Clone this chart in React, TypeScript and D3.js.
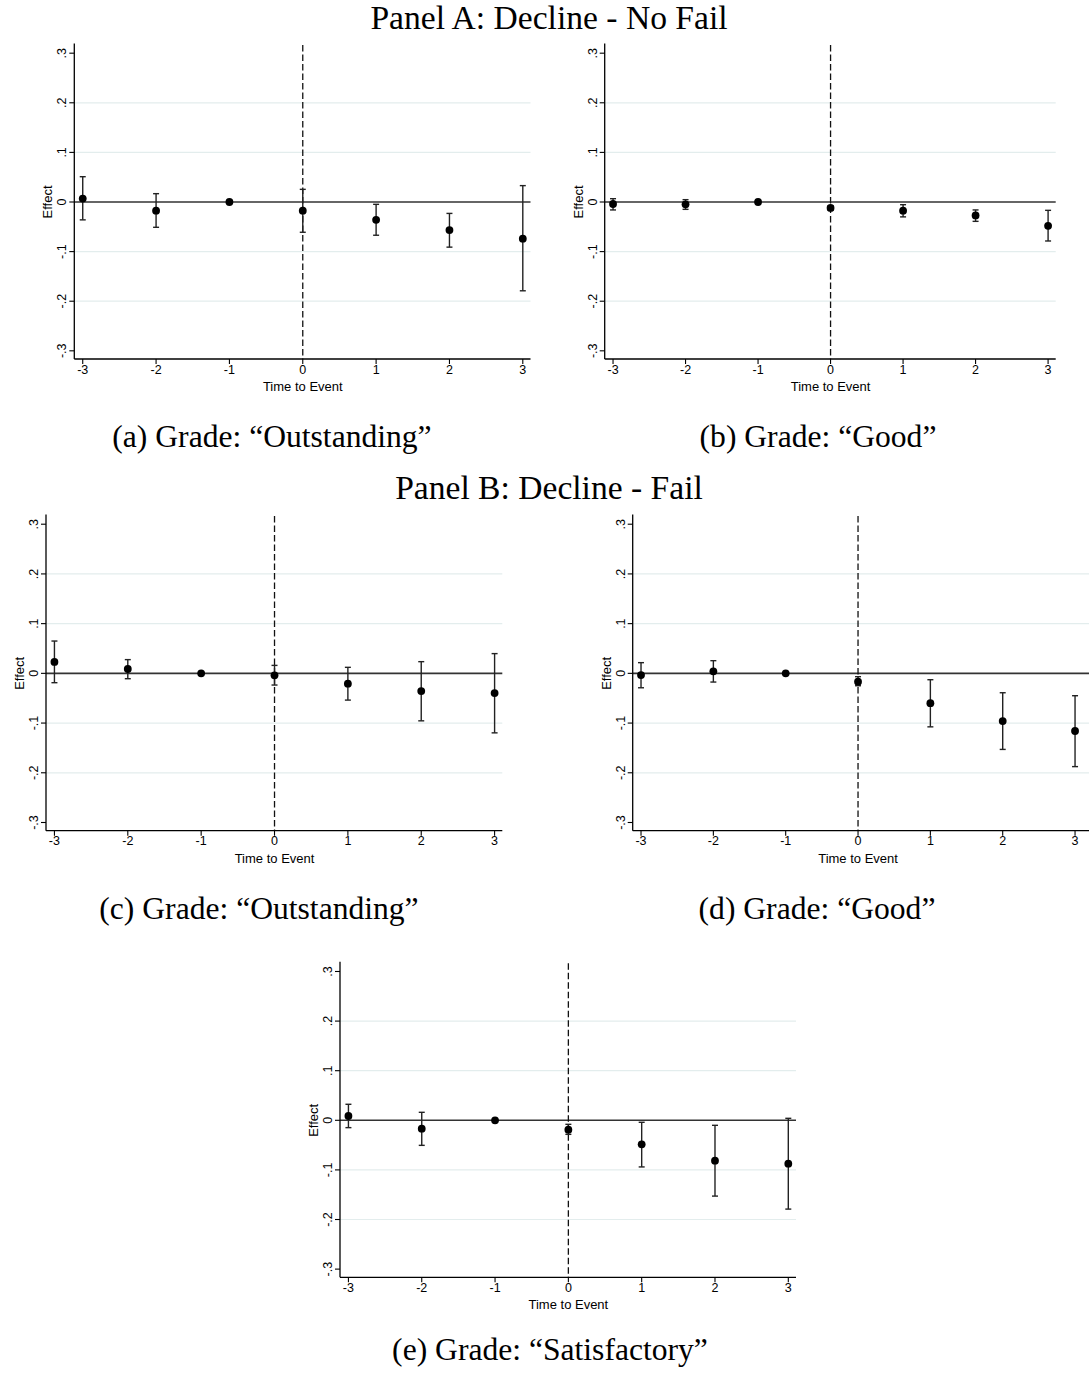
import React from "react";
import * as d3 from "d3";

// Event-study estimates: relative period, point estimate, 95% CI bounds.
const EVENT_TIME = [-3, -2, -1, 0, 1, 2, 3];

const noFailOutstandingEst = [0.007, -0.0175, 0, -0.0175, -0.036, -0.0565, -0.074];
const noFailOutstandingLo = [-0.036, -0.051, null, -0.061, -0.067, -0.091, -0.179];
const noFailOutstandingHi = [0.051, 0.0168, null, 0.0255, -0.0047, -0.023, 0.033];

const noFailGoodEst = [-0.004, -0.0047, 0, -0.012, -0.0175, -0.027, -0.048];
const noFailGoodLo = [-0.016, -0.0148, null, -0.0168, -0.03, -0.039, -0.0786];
const noFailGoodHi = [0.0067, 0.0047, null, -0.0074, -0.0054, -0.016, -0.0168];

const failOutstandingEst = [0.0229, 0.0087, 0, -0.004, -0.0208, -0.0356, -0.0397];
const failOutstandingLo = [-0.0188, -0.0108, null, -0.0235, -0.0538, -0.0955, -0.1197];
const failOutstandingHi = [0.065, 0.0276, null, 0.016, 0.0121, 0.0235, 0.0397];

const failGoodEst = [-0.0034, 0.004, 0, -0.0168, -0.06, -0.096, -0.116];
const failGoodLo = [-0.029, -0.0175, null, -0.0249, -0.1076, -0.153, -0.1876];
const failGoodHi = [0.0215, 0.0255, null, -0.0067, -0.0128, -0.039, -0.045];

const failSatisfactoryEst = [0.0087, -0.0168, 0, -0.0188, -0.0485, -0.0814, -0.0875];
const failSatisfactoryLo = [-0.0148, -0.0505, null, -0.0283, -0.094, -0.1528, -0.179];
const failSatisfactoryHi = [0.0323, 0.0161, null, -0.0081, -0.004, -0.0101, 0.004];

const Y_TICKS = [-0.3, -0.2, -0.1, 0, 0.1, 0.2, 0.3];
const Y_TICK_LABELS = ["-.3", "-.2", "-.1", "0", ".1", ".2", ".3"];
const GRID_VALUES = [-0.2, -0.1, 0.1, 0.2];
const X_TICKS = [-3, -2, -1, 0, 1, 2, 3];

const PANEL_TITLES = ["Panel A: Decline - No Fail", "Panel B: Decline - Fail"];
const CAPTIONS = [
  "(a) Grade: \u201cOutstanding\u201d",
  "(b) Grade: \u201cGood\u201d",
  "(c) Grade: \u201cOutstanding\u201d",
  "(d) Grade: \u201cGood\u201d",
  "(e) Grade: \u201cSatisfactory\u201d",
];

const W = 1089;
const H = 1375;
const SANS = "'Liberation Sans', Arial, Helvetica, sans-serif";
const SERIF = "'Liberation Serif', 'Times New Roman', serif";

type Frame = { left: number; right: number; top: number; bottom: number; xMax: number };

const panels = [
  { est: noFailOutstandingEst, lo: noFailOutstandingLo, hi: noFailOutstandingHi,
    frame: { left: 74.3, right: 530.5, top: 45, bottom: 359, xMax: 3.105 } },
  { est: noFailGoodEst, lo: noFailGoodLo, hi: noFailGoodHi,
    frame: { left: 604.7, right: 1055.7, top: 45, bottom: 359, xMax: 3.105 } },
  { est: failOutstandingEst, lo: failOutstandingLo, hi: failOutstandingHi,
    frame: { left: 46, right: 502.3, top: 516, bottom: 830.7, xMax: 3.105 } },
  { est: failGoodEst, lo: failGoodLo, hi: failGoodHi,
    frame: { left: 632.7, right: 1095.3, top: 516, bottom: 830.7, xMax: 3.28 } },
  { est: failSatisfactoryEst, lo: failSatisfactoryLo, hi: failSatisfactoryHi,
    frame: { left: 340, right: 796, top: 963.3, bottom: 1277.3, xMax: 3.105 } },
];

function EventPlot({ est, lo, hi, frame }: { est: number[]; lo: (number | null)[]; hi: (number | null)[]; frame: Frame }) {
  const x = d3.scaleLinear().domain([-3.115, frame.xMax]).range([frame.left, frame.right]);
  const y = d3.scaleLinear().domain([-0.3165, 0.3165]).range([frame.bottom, frame.top]);
  const capHalf = 3;
  const midY = (frame.top + frame.bottom) / 2;
  return (
    <g>
      {GRID_VALUES.map((v) => (
        <line key={"g" + v} x1={frame.left} x2={frame.right} y1={y(v)} y2={y(v)} stroke="#e3eded" strokeWidth={1.2} />
      ))}
      {/* reference lines */}
      <line x1={frame.left} x2={frame.right} y1={y(0)} y2={y(0)} stroke="#333" strokeWidth={1.6} />
      <line x1={x(0)} x2={x(0)} y1={frame.top} y2={frame.bottom} stroke="#111" strokeWidth={1.3} strokeDasharray="6.5,3" />
      {/* confidence intervals */}
      {EVENT_TIME.map((t, i) => {
        const l = lo[i];
        const h = hi[i];
        if (l === null || h === null) return null;
        const cx = x(t);
        return (
          <g key={"ci" + t} stroke="#222" strokeWidth={1.4}>
            <line x1={cx} x2={cx} y1={y(h)} y2={y(l)} />
            <line x1={cx - capHalf} x2={cx + capHalf} y1={y(h)} y2={y(h)} />
            <line x1={cx - capHalf} x2={cx + capHalf} y1={y(l)} y2={y(l)} />
          </g>
        );
      })}
      {EVENT_TIME.map((t, i) => (
        <circle key={"p" + t} cx={x(t)} cy={y(est[i])} r={3.9} fill="#000" />
      ))}
      {/* axes */}
      <line x1={frame.left} x2={frame.left} y1={frame.top - 1.5} y2={frame.bottom} stroke="#000" strokeWidth={1.3} />
      <line x1={frame.left} x2={frame.right} y1={frame.bottom} y2={frame.bottom} stroke="#000" strokeWidth={1.3} />
      {Y_TICKS.map((v, i) => (
        <g key={"yt" + v}>
          <line x1={frame.left - 5} x2={frame.left} y1={y(v)} y2={y(v)} stroke="#000" strokeWidth={1.1} />
          <text
            transform={`translate(${frame.left - 8},${y(v)}) rotate(-90)`}
            textAnchor="middle"
            fontFamily={SANS}
            fontSize={12.5}
            fill="#000"
          >
            {Y_TICK_LABELS[i]}
          </text>
        </g>
      ))}
      {X_TICKS.map((t) => (
        <g key={"xt" + t}>
          <line x1={x(t)} x2={x(t)} y1={frame.bottom} y2={frame.bottom + 5} stroke="#000" strokeWidth={1.1} />
          <text x={x(t)} y={frame.bottom + 14.5} textAnchor="middle" fontFamily={SANS} fontSize={12.5} fill="#000">
            {t}
          </text>
        </g>
      ))}
      <text x={x(0)} y={frame.bottom + 32} textAnchor="middle" fontFamily={SANS} fontSize={13} fill="#000">
        Time to Event
      </text>
      <text
        transform={`translate(${frame.left - 22},${midY}) rotate(-90)`}
        textAnchor="middle"
        fontFamily={SANS}
        fontSize={13}
        fill="#000"
      >
        Effect
      </text>
    </g>
  );
}

export default function App() {
  const captionPos = [
    { x: 272, y: 447 },
    { x: 818, y: 447 },
    { x: 259, y: 919 },
    { x: 817, y: 919 },
    { x: 550, y: 1360 },
  ];
  const titlePos = [
    { x: 549, y: 28.5 },
    { x: 549, y: 499 },
  ];
  return (
    <svg
      width={W}
      height={H}
      viewBox={`0 0 ${W} ${H}`}
      style={{ position: "absolute", left: 0, top: 0, background: "#fff" }}
    >
      <rect width={W} height={H} fill="#fff" />
      {panels.map((p, i) => (
        <EventPlot key={i} est={p.est} lo={p.lo} hi={p.hi} frame={p.frame} />
      ))}
      {PANEL_TITLES.map((t, i) => (
        <text key={t} x={titlePos[i].x} y={titlePos[i].y} textAnchor="middle" fontFamily={SERIF} fontSize={33.6} fill="#000">
          {t}
        </text>
      ))}
      {CAPTIONS.map((c, i) => (
        <text key={c + i} x={captionPos[i].x} y={captionPos[i].y} textAnchor="middle" fontFamily={SERIF} fontSize={31.6} fill="#000">
          {c}
        </text>
      ))}
    </svg>
  );
}
